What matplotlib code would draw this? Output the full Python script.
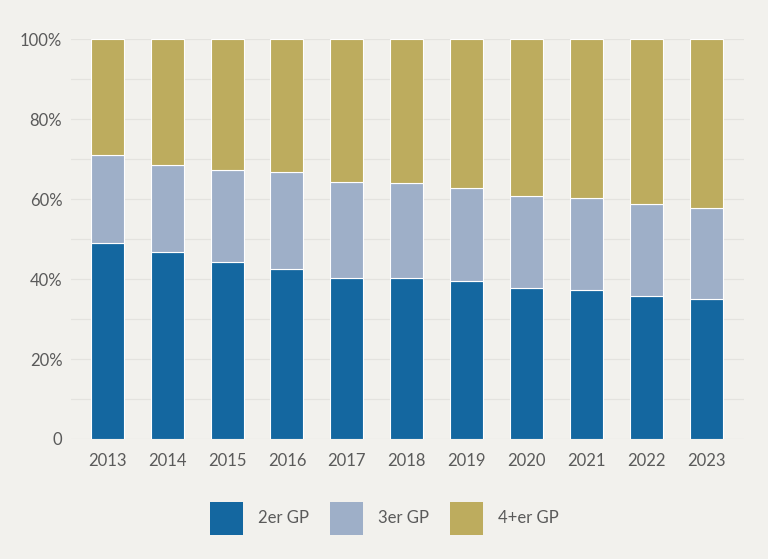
import matplotlib.pyplot as plt
from matplotlib.patches import Rectangle
from matplotlib.ticker import MultipleLocator, FuncFormatter

plt.rcParams['font.family'] = ['Lato', 'DejaVu Sans']

years = ["2013", "2014", "2015", "2016", "2017", "2018",
         "2019", "2020", "2021", "2022", "2023"]
# shares in percent
gp2 = [49.1, 46.7, 44.2, 42.6, 40.3, 40.3, 39.6, 37.7, 37.4, 35.8, 34.9]
gp3 = [21.9, 21.8, 23.05, 24.1, 24.0, 23.7, 23.2, 23.1, 22.9, 22.95, 22.8]
gp4 = [29.0, 31.5, 32.75, 33.3, 35.7, 36.0, 37.2, 39.2, 39.7, 41.25, 42.3]

labels = ["2er GP", "3er GP", "4+er GP"]
colors = ["#1467a0", "#9eafc8", "#bdac5e"]
bg = "#f2f1ed"
txt = "#5a5a5a"

W, H = 768, 559
fig = plt.figure(figsize=(W / 100, H / 100), dpi=100, facecolor=bg)
ax = fig.add_axes([0.092, 0.2147, 0.877, 0.715], facecolor=bg)

x = list(range(len(years)))
bottom = [0] * len(years)
for vals, c in zip([gp2, gp3, gp4], colors):
    ax.bar(x, vals, width=0.55, bottom=bottom, color=c,
           edgecolor="white", linewidth=0.8, zorder=3)
    bottom = [b + v for b, v in zip(bottom, vals)]

ax.set_xlim(-0.61, 10.63)
ax.set_ylim(0, 100)
ax.set_xticks(x)
ax.set_xticklabels(years)
ax.yaxis.set_major_locator(MultipleLocator(20))
ax.yaxis.set_minor_locator(MultipleLocator(10))
ax.yaxis.set_major_formatter(FuncFormatter(lambda v, p: "0" if v == 0 else f"{v:.0f}%"))
ax.grid(axis="y", which="both", color="#e4e3df", linewidth=0.9, zorder=0)
ax.tick_params(axis="both", which="both", length=0, labelsize=12, colors=txt)
ax.tick_params(axis="y", pad=6)
ax.tick_params(axis="x", pad=10)
for s in ax.spines.values():
    s.set_visible(False)

# legend: evenly spaced swatches below the plot
for i, (lab, c) in enumerate(zip(labels, colors)):
    x0 = (210 + i * 120) / W
    fig.add_artist(Rectangle((x0, 1 - 535 / H), 33 / W, 33 / H,
                             transform=fig.transFigure, facecolor=c,
                             edgecolor="none"))
    fig.text(x0 + 48 / W, 1 - 518 / H, lab, fontsize=12, color=txt,
             va="center", ha="left")

fig.savefig("out.png", dpi=100, facecolor=bg)
